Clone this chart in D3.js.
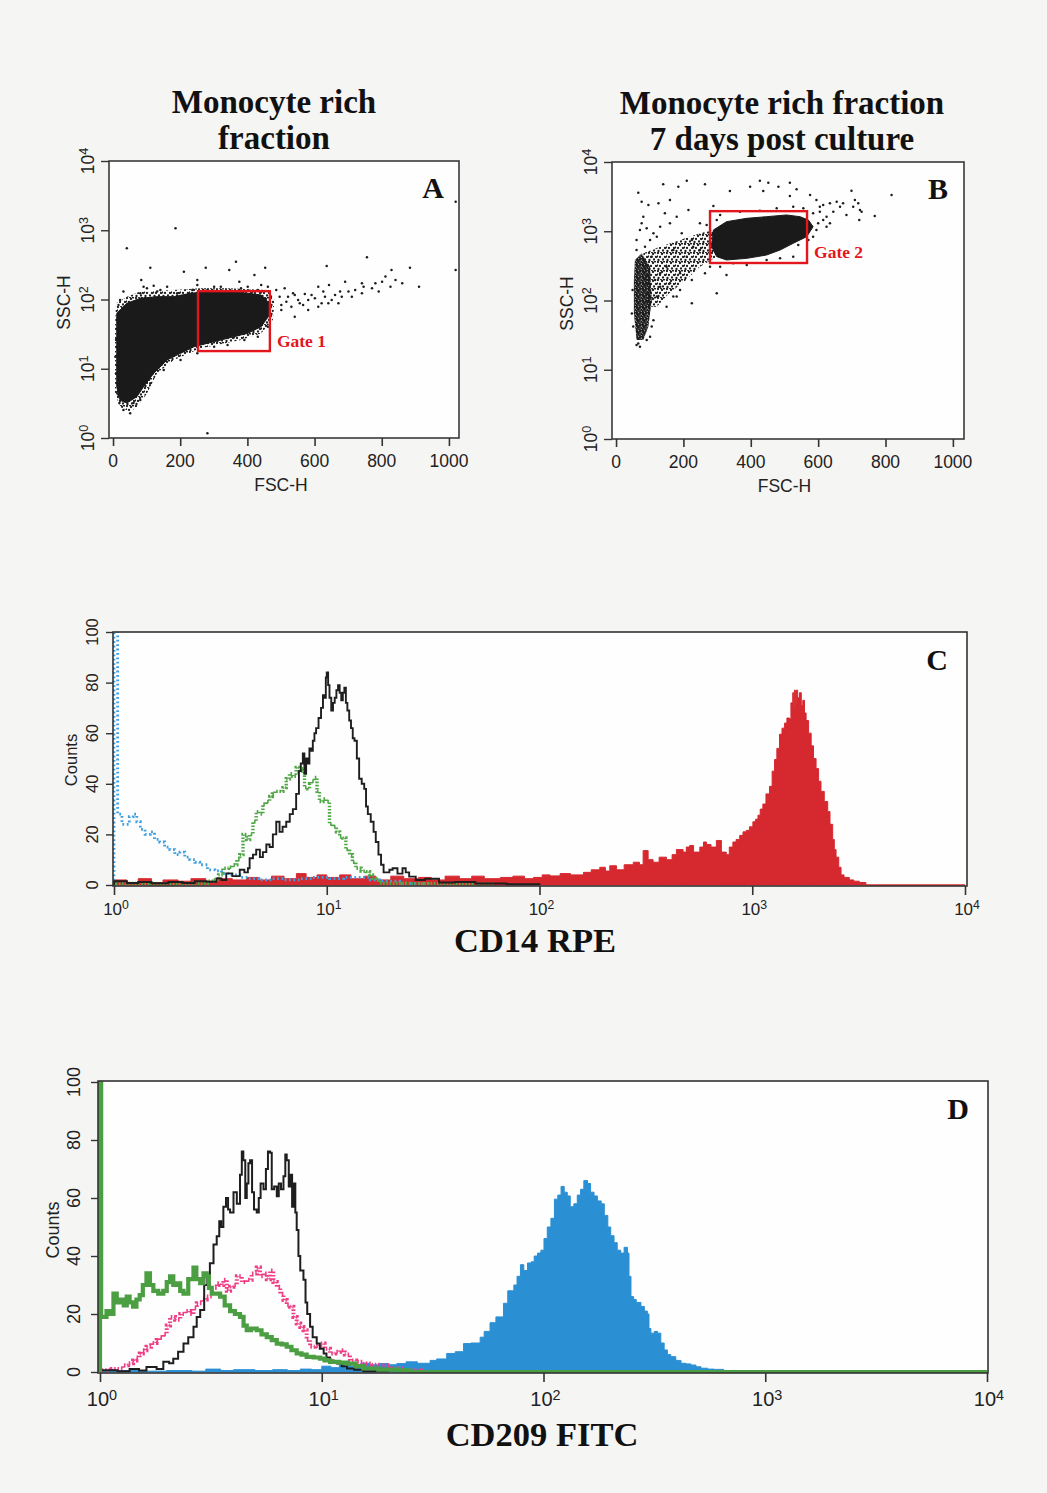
<!DOCTYPE html>
<html><head><meta charset="utf-8">
<script src="https://cdn.jsdelivr.net/npm/d3@7"></script>
<style>
body{margin:0;background:#f5f5f3;}
svg{display:block;}
</style></head>
<body><svg id="chart" width="1047" height="1493"></svg>
<script>
// ================= DATA =================
const fscTicks = [0,200,400,600,800,1000];
const logDecades = [1,10,100,1000,10000];
const countTicks = [0,20,40,60,80,100];

// Panel A: FSC-H vs SSC-H (monocyte rich fraction)
const scatterA_medium = [[9,88],[41,110],[81,130],[181,137],[261,145],[341,145],[461,137],[481,98],[476,51],[441,32.5],[381,26],[261,19.7],[181,13.4],[131,8.6],[101,4.4],[71,2.8],[51,2.4],[21,2.8],[6,4.4],[6,40.5]];
const scatterA_dense = [[11,63],[41,88],[81,104],[131,110],[181,110],[231,123],[281,130],[341,130],[401,123],[441,116],[466,88],[466,60],[441,40.5],[401,32.5],[341,27.5],[281,23.3],[241,20.8],[201,16.7],[161,13.4],[121,8.6],[91,5.5],[71,3.95],[41,3.2],[21,3.5],[11,5.5],[11,26]];
const scatterA_points = [[41,548],[186,1066],[111,288],[276,288],[366,352],[346,267],[453,288],[421,226],[211,252],[84,191],[121,158],[636,305],[756,406],[884,288],[829,267],[911,153],[826,153],[1020,2588],[1020,267],[301,153],[376,181],[461,153],[486,137],[511,145],[541,116],[571,120],[611,153],[643,162],[691,181],[741,171],[781,171],[811,214],[791,130],[801,181],[501,70.5],[531,78.9],[556,88],[581,98],[601,104],[631,110],[661,116],[681,110],[701,130],[721,137],[541,56.5],[581,70.5],[611,78.9],[641,88],[671,88],[551,98],[521,110],[501,83],[31,130],[21,98],[81,123],[101,145],[141,137],[191,123],[51,2.27],[281,1.17],[496,110],[516,93],[536,123],[566,83],[591,116],[621,88],[651,98],[676,130],[711,110],[746,153],[771,145],[841,191],[861,171],[741,123],[626,130],[91,153],[131,130],[161,153],[236,137],[251,162],[281,137],[321,153],[381,145],[401,153],[431,137],[441,162],[251,191],[9,26],[7,14.9],[9,8.6],[13,4.4],[19,3.2],[31,2.54],[61,3.2],[81,3.54],[111,6.15],[151,9.6],[201,13.4],[251,16.7],[301,20.8],[341,22],[391,26],[431,29],[461,40.5]];
const gateA = {fsc:[253,467], ssc:[18,132], label:"Gate 1"};

// Panel B: 7 days post culture
const scatterB_medium = [[81,480],[131,599],[190,748],[249,933],[289,1042],[299,430],[249,308],[208,198],[158,127],[121,81],[91,81]];
const scatterB_dense = [[289,1042],[328,1375],[388,1537],[447,1623],[506,1718],[546,1623],[571,1453],[585,1164],[566,835],[526,670],[487,536],[447,454],[388,406],[328,385],[299,430],[284,599]];
const scatterB_lobe = [[56,385],[76,480],[101,308],[106,102],[96,42],[81,27],[61,27],[53,65],[53,198]];
const scatterB_points = [[66,3606],[76,2673],[96,2393],[126,2529],[140,4757],[160,2826],[185,4401],[210,5373],[215,2027],[264,4757],[289,2317],[338,3811],[398,4401],[427,5373],[437,3811],[452,5031],[482,4401],[516,5031],[536,4030],[516,3228],[576,3334],[595,2826],[615,2393],[635,2529],[655,2673],[674,2529],[699,3855],[709,2826],[719,2529],[729,1919],[768,1660],[818,3334],[722,1453],[625,1625],[605,1919],[595,1042],[635,1300],[615,1453],[585,835],[299,127],[328,233],[180,114],[225,91],[81,1623],[71,1042],[61,748],[131,1164],[121,835],[160,1300],[170,536],[210,430],[229,599],[150,308],[190,247],[249,536],[131,158],[160,177],[101,748],[526,430],[541,633],[71,21.5],[61,22.8],[76,1300],[91,1102],[111,933],[195,933],[269,1230],[249,1300],[225,748],[145,1815],[180,1623],[585,1815],[605,2265],[645,1919],[665,2265],[556,2143],[526,2265],[477,2143],[427,1983],[368,1919],[309,1718],[299,1453],[684,1718],[704,2265],[724,2027],[625,1164],[600,1300],[571,748],[309,308],[348,344],[388,326],[447,385],[487,406],[49,142],[47,65],[51,42],[66,24],[91,27],[111,52],[121,114],[116,198],[61,536],[86,599],[106,430],[131,247],[150,81],[170,114],[190,142],[225,198],[264,247],[279,308],[106,42],[101,30]];
const gateB = {fsc:[279,567], ssc:[348,1950], label:"Gate 2"};

// Panel C: CD14 RPE histograms  [fluorescence, counts]
const cd14Red = [[1,0],[1,2],[1.15,1],[1.3,2.5],[1.5,1],[1.7,2],[2,1.5],[2.3,2.5],[2.7,1.5],[3.1,2.5],[3.6,2],[4.2,3],[4.8,2],[5.5,3.5],[6.3,2.5],[7.2,4.5],[8,3],[9,4],[10,3],[11.5,4],[13,2.5],[15,3.5],[17,2],[20,3.5],[23,2.5],[27,3],[31,2],[36,3.5],[42,2.5],[48,3.5],[55,2.5],[65.5,3],[75,3.5],[85,2.5],[93.7,3],[103,4],[112,3.6],[125,4.5],[140,4],[161,5],[175,6],[192,7],[204,5.5],[214,7.6],[230,6],[250,8],[276,9],[295,8],[307,13.6],[324,10],[342,9],[365,11],[395,10],[420,12],[440,14],[473,13],[490,15],[508,15.6],[530,13],[567,15],[590,17],[609,16],[640,15],[678,17.6],[716,13],[755,12],[780,15],[811,17],[840,18],[873,19.6],[905,21],[937,21.6],[970,23],[1007,25],[1035,26],[1064,27.6],[1090,30],[1122,32],[1160,36],[1205,39],[1240,45],[1273,49.6],[1305,54],[1343,59.6],[1380,62],[1419,64],[1455,66],[1496,65.6],[1520,72],[1550,76],[1565,70],[1578,77],[1595,71],[1607,77],[1635,74],[1667,76],[1700,71],[1728,73],[1760,68],[1791,65],[1840,60],[1892,55],[1940,50],[1995,46],[2050,41],[2104,37],[2180,33],[2263,29],[2320,24],[2388,18],[2430,14],[2477,11],[2550,7],[2614,4],[2700,3],[2858,2],[3000,1.5],[3184,1],[3420,0],[10000,0]];
const cd14Black = [[1,0],[1,1.5],[1.15,0.8],[1.3,1.2],[1.5,0.7],[1.8,1.2],[2.1,0.8],[2.4,1.5],[2.72,1.3],[3.03,2.6],[3.2,2],[3.37,4.6],[3.6,3.5],[3.9,6],[4.1,5],[4.26,6.6],[4.34,10.6],[4.5,12],[4.66,14],[4.85,11],[5.01,13],[5.2,16],[5.39,15],[5.58,20],[5.79,25],[6.0,21],[6.2,23],[6.45,25],[6.7,28],[6.93,30],[7.18,36],[7.4,45],[7.55,48],[7.72,52],[7.85,44],[8.0,50],[8.15,48],[8.29,54],[8.45,53],[8.6,57],[8.75,60],[8.91,62],[9.15,66],[9.4,70],[9.6,75],[9.75,74],[9.9,82],[10,84],[10.15,79],[10.3,74],[10.5,69],[10.7,72],[10.9,74],[11.1,77],[11.3,79],[11.5,76],[11.7,73],[11.9,76],[12.1,78],[12.3,72],[12.5,69],[12.75,65],[13,62],[13.25,58],[13.5,57],[13.85,50],[14.2,42],[14.6,40],[15,38],[15.3,31],[15.6,28],[16.1,25],[16.6,21],[17,17],[17.5,12],[18,8],[18.5,5],[19,5],[19.7,6],[20.4,6.6],[21.5,4.5],[22.7,6.6],[23.5,5],[24.4,3.3],[26.2,2],[29,2.5],[33.7,1],[40,1.2],[50,0.6],[70,0.3],[100,0]];
const cd14Green = [[1,0],[1,0.6],[1.5,0.4],[2,0.6],[2.53,0.7],[2.75,1.5],[2.92,2],[3.1,4],[3.25,6.6],[3.45,7],[3.62,8],[3.78,10],[3.9,12],[4.04,20],[4.2,18],[4.34,20],[4.5,25],[4.66,29],[4.85,28],[5.01,32],[5.2,33],[5.39,35],[5.55,36],[5.69,37],[5.95,37],[6.22,38.5],[6.45,42],[6.68,44],[6.9,43],[7.18,46.5],[7.4,45],[7.58,46],[7.86,38.5],[8.15,38],[8.3,40],[8.45,41],[8.75,42.5],[9.0,37],[9.24,33],[9.6,34],[9.93,33],[10.3,24],[10.7,23],[11.1,21],[11.5,19],[11.9,18.6],[12.3,14],[12.8,12],[13.2,9],[13.7,6.6],[14.5,5.5],[15.3,5.3],[15.9,4],[16.4,2.6],[17,2],[17.7,0.7],[25,0.5],[40,0.3],[60,0]];
const cd14Blue = [[1,0],[1,110],[1.04,28],[1.09,24],[1.13,24],[1.18,27],[1.23,28],[1.28,25],[1.33,22],[1.4,20],[1.48,21],[1.55,18],[1.64,17],[1.73,15],[1.83,14],[1.93,12],[2.04,13],[2.15,11],[2.27,10],[2.4,9],[2.53,8],[2.75,6],[2.98,5.6],[3.2,4.5],[3.5,4],[3.9,3],[4.3,2.5],[4.8,2],[5.5,2.5],[6.3,2],[7.5,2.5],[8.5,3],[10.3,2.5],[12,3],[14.3,3],[16,2],[17.7,1.5],[22,0.5],[30,0]];

// Panel D: CD209 FITC histograms
const cd209Blue = [[1,0],[1,0.5],[1.5,0.3],[2,0.5],[2.6,0.3],[3,1],[3.5,0.5],[4,0.8],[5,0.5],[6,0.8],[7,0.5],[8,1],[9,0.8],[10,2],[11,1.5],[12,2.5],[13.5,2],[15,3],[16.5,2.5],[18,2.9],[20,2.5],[21.8,2.9],[24,3.5],[27,3],[30.8,4],[33,4.5],[36.6,6.4],[40,7],[43.6,9.8],[47,10],[51.8,12],[54,14],[57.4,17],[61,19],[66,23.7],[69,28],[73.5,30],[76,33],[78.7,37],[81.5,35],[84.7,37.6],[88,38],[90.8,40],[94,41],[97.3,42],[100.5,46],[104,50],[108,53],[112,59.6],[116,61],[120,64],[124,62],[128,60.7],[132,57],[137,58],[142,61],[147,63],[152,66],[158,65],[163,62],[169,60.7],[175,59],[182,58],[188,54],[195,50],[201,47],[208,44.6],[215,42],[223,41],[231,43],[239,41],[243,33],[248,26],[255,25],[262,24],[275,22.6],[285,21],[294,20],[299,15],[305,13.4],[316,14],[327,13.4],[338,10],[350,7.6],[362,6],[375,5.3],[395,4],[417,3],[440,2.8],[462,2.4],[487,1.8],[513,1.3],[550,1],[589,0.9],[650,0.4],[724,0],[10000,0]];
const cd209Black = [[1,0],[1,0.6],[1.2,0.3],[1.36,1],[1.5,0.5],[1.62,1.7],[1.8,1],[1.93,3.5],[2.05,3],[2.14,4.6],[2.25,7],[2.38,9.8],[2.5,12],[2.64,15.6],[2.73,19],[2.83,21.4],[2.95,30],[3.05,33],[3.13,37.5],[3.25,44],[3.36,46.8],[3.45,52],[3.52,50],[3.6,57],[3.7,60],[3.78,56],[3.86,55],[4.0,62],[4.14,58],[4.28,68],[4.36,76],[4.43,73],[4.52,60],[4.59,65],[4.67,72],[4.75,73],[4.85,62],[4.95,56],[5.09,55],[5.2,60],[5.3,65],[5.46,63],[5.6,70],[5.72,76],[5.85,75.6],[5.95,63],[6.1,64],[6.27,60.6],[6.4,65],[6.55,63],[6.72,67.5],[6.85,75],[6.95,73],[7.1,64],[7.25,68],[7.35,57],[7.45,65],[7.6,55],[7.71,49],[7.85,40],[8.0,35],[8.27,31.8],[8.45,24],[8.6,20],[8.86,15.6],[9.1,12],[9.49,9.8],[9.8,8],[10.2,6.4],[10.5,5],[10.9,4],[11.3,3.5],[11.7,2.9],[12.3,2],[13,1.2],[14,0.8],[15.4,0.3],[20,0]];
const cd209Green = [[1,0],[1,105],[1.012,19],[1.035,19],[1.07,21],[1.11,20],[1.15,27],[1.19,24],[1.23,25],[1.28,23],[1.32,26],[1.36,24],[1.41,22.5],[1.46,25],[1.51,26.5],[1.56,30],[1.62,34],[1.68,30],[1.74,28],[1.83,27],[1.93,28],[2.0,31],[2.07,33],[2.14,30],[2.22,30.6],[2.3,28],[2.38,27],[2.5,32],[2.64,36],[2.72,32],[2.83,30.6],[2.93,34],[3.03,33],[3.1,29],[3.19,27],[3.33,27],[3.48,26],[3.65,23],[3.86,21],[4.06,20],[4.28,19],[4.44,16],[4.59,14.4],[4.8,15],[5.09,14.4],[5.35,13],[5.65,12],[5.95,11],[6.27,9.8],[6.6,9.5],[6.95,8.7],[7.3,7.5],[7.71,6.4],[8.1,6],[8.55,5.2],[9.2,5],[9.83,4.6],[10.3,4],[10.9,3.5],[12,3.2],[13,2.9],[14.2,2],[15.4,1.2],[18,0.8],[21.8,0.6],[25,0],[10000,0]];
const cd209Pink = [[1,0],[1,0.6],[1.13,1],[1.27,2.3],[1.34,3],[1.41,4],[1.46,5],[1.51,6.4],[1.56,7.5],[1.62,8.7],[1.7,10],[1.8,11],[1.86,12],[1.93,13],[2.0,16],[2.07,19],[2.18,18],[2.3,20],[2.42,21],[2.55,20],[2.64,22],[2.73,23.7],[2.88,25],[3.03,26],[3.2,29],[3.36,30.6],[3.48,30],[3.6,31.8],[3.73,28],[3.86,29.4],[4.0,30],[4.14,33],[4.36,31],[4.59,31.8],[4.83,34],[5.09,36],[5.27,33],[5.46,34],[5.65,32],[5.85,35],[6.05,31],[6.27,29.4],[6.5,27],[6.72,24.8],[6.95,23],[7.2,22.5],[7.45,19],[7.71,16.7],[8.0,15.5],[8.27,14.4],[8.55,11],[8.86,8.7],[9.3,9],[9.83,9.8],[10.3,8],[10.9,6.4],[11.5,7],[12.1,7.5],[12.7,6],[13.4,4],[14.3,3.5],[15.4,2.9],[16.8,2.5],[18.3,2.3],[20.3,1.2],[23.4,0.5],[28,0]];

// ================= DRAWING =================
const svg = d3.select('#chart');
const SANS = "'Liberation Sans', Arial, Helvetica, sans-serif";
const SERIF = "'Liberation Serif', 'Times New Roman', serif";
const defs = svg.append('defs');

// irregular speckle textures for the medium / lobe density clouds
function makePattern(id, size, spots, r){
  const p = defs.append('pattern').attr('id',id).attr('width',size).attr('height',size).attr('patternUnits','userSpaceOnUse');
  spots.forEach(s=> p.append('circle').attr('cx',s[0]).attr('cy',s[1]).attr('r',r).attr('fill','#1c1c1c'));
}
makePattern('speck', 9, [[1,1],[5,2],[8,5],[3,5],[6,7.5],[1.5,8],[4,0],[0,4.5],[7,0.5]], 1.15);
makePattern('speckDense', 6, [[1,1],[4,1.5],[2.5,3.5],[5.5,4],[0.5,5],[3.5,5.8],[1.5,2.3],[5,0]], 1.45);

function supLabel(sel, exp){
  sel.append('tspan').text('10');
  sel.append('tspan').attr('dy','-0.45em').attr('font-size','0.72em').text(exp);
}

function serifText(x, y, txt, size, color){
  svg.append('text').attr('x',x).attr('y',y).attr('text-anchor','middle')
    .attr('font-family',SERIF).attr('font-weight','bold').attr('font-size',size)
    .attr('fill',color||'#111').text(txt);
}

function rotText(x, y, txt, size){
  svg.append('g').attr('transform',`translate(${x},${y}) rotate(-90)`)
    .append('text').attr('text-anchor','middle').attr('font-family',SANS)
    .attr('font-size',size).attr('fill','#222').text(txt);
}

function scatterPanel(o){
  const g = svg.append('g');
  const x = d3.scaleLinear().domain(o.xd).range([o.l,o.r]);
  const y = d3.scaleLog().domain([1,10000]).range([o.b,o.t]);
  g.append('rect').attr('x',o.l).attr('y',o.t).attr('width',o.r-o.l).attr('height',o.b-o.t).attr('fill','#fefefe');
  const cid = 'clip'+o.id;
  defs.append('clipPath').attr('id',cid).append('rect').attr('x',o.l).attr('y',o.t).attr('width',o.r-o.l).attr('height',o.b-o.t);
  const pg = g.append('g').attr('clip-path',`url(#${cid})`);
  const poly = d3.line().x(d=>x(d[0])).y(d=>y(d[1])).curve(d3.curveLinearClosed);
  o.medium.forEach(m=> pg.append('path').attr('d',poly(m)).attr('fill','url(#speck)'));
  o.lobes.forEach(m=> pg.append('path').attr('d',poly(m)).attr('fill','url(#speckDense)'));
  o.dense.forEach(m=> pg.append('path').attr('d',poly(m)).attr('fill','#1a1a1a').attr('stroke','#1a1a1a').attr('stroke-width',1));
  pg.selectAll('circle.pt').data(o.points).join('circle').attr('class','pt')
    .attr('cx',d=>x(d[0])).attr('cy',d=>y(d[1])).attr('r',1.25).attr('fill','#1c1c1c');
  // box
  g.append('rect').attr('x',o.l).attr('y',o.t).attr('width',o.r-o.l).attr('height',o.b-o.t)
    .attr('fill','none').attr('stroke','#3a3a3a').attr('stroke-width',1.6);
  // x axis ticks
  const ax = g.append('g').attr('transform',`translate(0,${o.b})`);
  ax.call(d3.axisBottom(x).tickValues(d3.range(0,1001,40)).tickSize(5).tickFormat(''));
  ax.call(d3.axisBottom(x).tickValues(fscTicks).tickSize(8).tickFormat(''));
  ax.selectAll('.domain').remove();
  ax.selectAll('line').attr('stroke','#333').attr('stroke-width',1.6);
  fscTicks.forEach(v=> g.append('text').attr('x',x(v)).attr('y',o.b+29).attr('text-anchor','middle')
    .attr('font-family',SANS).attr('font-size',17.5).attr('fill','#222').text(v));
  // y axis ticks
  const minor = [];
  [1,10,100,1000].forEach(d=>{ for(let k=2;k<10;k++) minor.push(k*d); });
  const ay = g.append('g').attr('transform',`translate(${o.l},0)`);
  ay.call(d3.axisLeft(y).tickValues(minor).tickSize(4).tickFormat(''));
  ay.call(d3.axisLeft(y).tickValues(logDecades).tickSize(8).tickFormat(''));
  ay.selectAll('.domain').remove();
  ay.selectAll('line').attr('stroke','#333').attr('stroke-width',1.4);
  logDecades.forEach((v,i)=>{
    const t = g.append('g').attr('transform',`translate(${o.l-15},${y(v)}) rotate(-90)`)
      .append('text').attr('text-anchor','middle').attr('font-family',SANS).attr('font-size',17.5).attr('fill','#222');
    supLabel(t, String(i));
  });
  // gate
  const gt = o.gate;
  g.append('rect').attr('x',x(gt.fsc[0])).attr('y',y(gt.ssc[1]))
    .attr('width',x(gt.fsc[1])-x(gt.fsc[0])).attr('height',y(gt.ssc[0])-y(gt.ssc[1]))
    .attr('fill','none').attr('stroke','#e3161d').attr('stroke-width',2.4);
  g.append('text').attr('x',x(gt.fsc[1])+7).attr('y',(y(gt.ssc[0])+y(gt.ssc[1]))/2 + o.gateDy)
    .attr('font-family',SERIF).attr('font-weight','bold').attr('font-size',17.5).attr('fill','#e3161d').text(gt.label);
  // axis titles
  g.append('text').attr('x',(x(0)+x(1000))/2).attr('y',o.b+53).attr('text-anchor','middle')
    .attr('font-family',SANS).attr('font-size',17.5).attr('fill','#222').text('FSC-H');
  rotText(o.l-39, y(100)+3, 'SSC-H', 17.5);
  serifText(o.r-26, o.t+37, o.letter, 30);
}

scatterPanel({id:'A', l:109, r:459, t:161, b:438, xd:[-12,1030],
  medium:[scatterA_medium], lobes:[], dense:[scatterA_dense], points:scatterA_points, gate:gateA, gateDy:26, letter:'A'});
scatterPanel({id:'B', l:612, r:964, t:162, b:439, xd:[-12,1033],
  medium:[scatterB_medium], lobes:[scatterB_lobe], dense:[scatterB_dense], points:scatterB_points, gate:gateB, gateDy:21, letter:'B'});

// titles
serifText(274, 113, 'Monocyte rich', 33);
serifText(274, 149, 'fraction', 33);
serifText(782, 114, 'Monocyte rich fraction', 33);
serifText(782, 150, '7 days post culture', 33);

function histPanel(o){
  const g = svg.append('g');
  const x = d3.scaleLog().domain([1,10000]).range([o.x0,o.x1]);
  const y = d3.scaleLinear().domain([0,100]).range([o.y0,o.y100]);
  g.append('rect').attr('x',o.l).attr('y',o.t).attr('width',o.r-o.l).attr('height',o.b-o.t).attr('fill','#fefefe');
  const cid='clip'+o.id;
  defs.append('clipPath').attr('id',cid).append('rect').attr('x',o.l).attr('y',o.t).attr('width',o.r-o.l).attr('height',o.b-o.t);
  const pg = g.append('g').attr('clip-path',`url(#${cid})`);
  const line = d3.line().x(d=>x(d[0])).y(d=>y(Math.min(d[1],106))).curve(d3.curveStepAfter);
  const area = d3.area().x(d=>x(d[0])).y0(y(0)).y1(d=>y(d[1])).curve(d3.curveStepAfter);
  o.series.forEach(s=>{
    if(s.fill){
      pg.append('path').attr('d',area(s.data)).attr('fill',s.color).attr('stroke',s.color).attr('stroke-width',1);
    } else {
      const p = pg.append('path').attr('d',line(s.data)).attr('fill','none').attr('stroke',s.color)
        .attr('stroke-width',s.w).attr('stroke-linejoin','miter');
      if(s.dash) p.attr('stroke-dasharray',s.dash);
    }
  });
  g.append('rect').attr('x',o.l).attr('y',o.t).attr('width',o.r-o.l).attr('height',o.b-o.t)
    .attr('fill','none').attr('stroke','#333').attr('stroke-width',1.6);
  // x ticks
  const minor=[]; [1,10,100,1000].forEach(d=>{for(let k=2;k<10;k++) minor.push(k*d);});
  const ax = g.append('g').attr('transform',`translate(0,${o.b})`);
  ax.call(d3.axisBottom(x).tickValues(minor).tickSize(5).tickFormat(''));
  ax.call(d3.axisBottom(x).tickValues(logDecades).tickSize(9).tickFormat(''));
  ax.selectAll('.domain').remove();
  ax.selectAll('line').attr('stroke','#333').attr('stroke-width',1.6);
  logDecades.forEach((v,i)=>{
    const t = g.append('text').attr('x',x(v)+2).attr('y',o.b+o.xlabDy).attr('text-anchor','middle')
      .attr('font-family',SANS).attr('font-size',o.fs).attr('fill','#222');
    supLabel(t,String(i));
  });
  // y ticks
  const ay = g.append('g').attr('transform',`translate(${o.l},0)`);
  ay.call(d3.axisLeft(y).tickValues(d3.range(0,101,5)).tickSize(4).tickFormat(''));
  ay.call(d3.axisLeft(y).tickValues(countTicks).tickSize(7).tickFormat(''));
  ay.selectAll('.domain').remove();
  ay.selectAll('line').attr('stroke','#333').attr('stroke-width',1.4);
  countTicks.forEach(v=>{
    g.append('g').attr('transform',`translate(${o.ylabX},${y(v)}) rotate(-90)`)
      .append('text').attr('text-anchor','middle').attr('font-family',SANS).attr('font-size',o.yfs)
      .attr('fill','#222').text(v);
  });
  rotText(o.countsX, o.countsY, 'Counts', o.yfs);
  serifText(o.titleX, o.titleY, o.title, 34.5);
  serifText(o.r-30, o.t+38, o.letter, 30);
}

histPanel({id:'C', l:113, r:967, t:632, b:886, x0:114, x1:965, y0:885, y100:632,
  xlabDy:29, fs:17, ylabX:98, yfs:16.5, countsX:77, countsY:760,
  title:'CD14 RPE', titleX:535, titleY:952, letter:'C',
  series:[
    {data:cd14Red, color:'#d6282f', fill:true},
    {data:cd14Blue, color:'#3f9fe0', w:2.8, dash:'1.8,2.6'},
    {data:cd14Green, color:'#4fa845', w:3.4, dash:'1.6,1.6'},
    {data:cd14Black, color:'#1e1e1e', w:1.9}
  ]});

histPanel({id:'D', l:98, r:988, t:1081, b:1373, x0:100, x1:987, y0:1372, y100:1082,
  xlabDy:33, fs:20, ylabX:80, yfs:18, countsX:59, countsY:1230,
  title:'CD209 FITC', titleX:542, titleY:1446, letter:'D',
  series:[
    {data:cd209Blue, color:'#2b8fd4', fill:true},
    {data:cd209Pink, color:'#ee3f86', w:4, dash:'1.6,1.8'},
    {data:cd209Black, color:'#1e1e1e', w:2},
    {data:cd209Green, color:'#4b9e42', w:4.2}
  ]});
</script>
</body></html>
